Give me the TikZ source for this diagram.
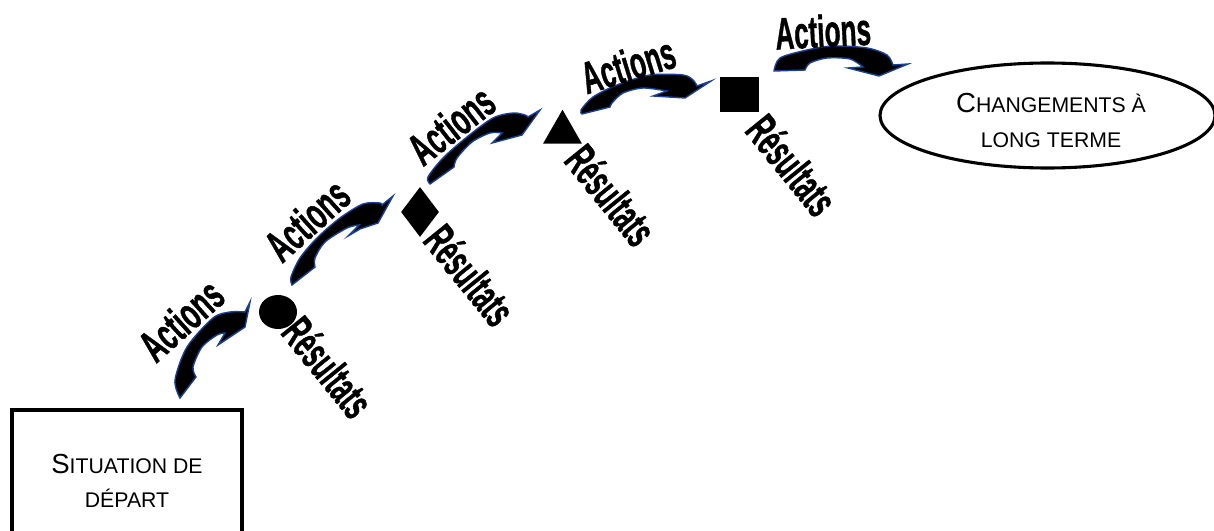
\documentclass[tikz,border=0pt]{standalone}
\usepackage{fontspec}
\setmainfont{Liberation Sans}
\newfontfamily\wordartfont[FakeBold=1.2]{Liberation Sans Bold}
\usetikzlibrary{shapes.geometric}
\definecolor{arrowblue}{RGB}{24,64,150}
\newcommand{\firstcap}[1]{{\fontsize{19.6}{24.5}\selectfont #1}}

\begin{document}
\begin{tikzpicture}[x=0.025cm, y=-0.025cm,
    actionarrow/.style={draw=arrowblue, fill=black, line width=1pt, line join=miter},
    actiontext/.style={font=\wordartfont\fontsize{32}{32}\selectfont, inner sep=0pt, transform shape, xscale=0.58},
    resulttext/.style={font=\wordartfont\fontsize{32}{32}\selectfont, inner sep=0pt, transform shape, xscale=0.56},
    marker/.style={fill=black, draw=none, inner sep=0pt},
    stage/.style={draw=black, line width=2.2pt},
    stagetext/.style={align=center, inner sep=0pt, font=\fontsize{15.1}{24.5}\selectfont}]
  \path[clip, use as bounding box] (0,0) rectangle (1214,531);

  \node[stage, stagetext, rectangle, minimum width=230*0.025cm, minimum height=142*0.025cm] (start) at (127,481) {\firstcap{S}ITUATION DE\\D\'EPART};
  \node[stage, ellipse, minimum width=335*0.025cm, minimum height=105*0.025cm, inner sep=0pt] (goal) at (1047.5,115.5) {};
  \node[stagetext] (goaltext) at (1051,120.5) {\firstcap{C}HANGEMENTS \`A\\LONG TERME};

  \node[marker, ellipse, minimum width=38*0.025cm, minimum height=34*0.025cm] (res1) at (278,312) {};
  \node[marker, diamond, minimum width=38*0.025cm, minimum height=50*0.025cm, aspect=0.76] (res2) at (420,212) {};
  \node[marker, isosceles triangle, shape border rotate=90, isosceles triangle stretches, minimum width=39*0.025cm, minimum height=34*0.025cm, anchor=apex] (res3) at (562.5,109) {};
  \node[marker, rectangle, minimum width=39*0.025cm, minimum height=35*0.025cm] (res4) at (739.5,94.5) {};

  \draw[actionarrow] plot[smooth] coordinates {(180,398) (175,380) (187,347) (213,318) (230,312) (245,312)}
    -- (250,302) -- (245,327) -- (218,345) -- (225,333)
    -- plot[smooth] coordinates {(225,333) (217,335) (202,347) (193,367) (196,377)} -- cycle;
  \draw[actionarrow] plot[smooth] coordinates {(292,285) (291,277) (300,258) (317,238) (340,218) (363,204) (380,203) (382,205)}
    -- (393,196) -- (378,223) -- (360,229) -- (348,236) -- (359,225)
    -- plot[smooth] coordinates {(359,225) (347,228) (325,242) (315,258) (315,267)} -- cycle;
  \draw[actionarrow] plot[smooth] coordinates {(430,184) (428,177) (443,158) (467,137) (493,118) (513,113) (525,115) (528,117)}
    -- (540,110) -- (522,135) -- (492,143) -- (502,133)
    -- plot[smooth] coordinates {(502,133) (490,133) (472,142) (457,158) (454,167)} -- cycle;
  \draw[actionarrow] plot[smooth] coordinates {(582,114) (581,110) (593,97) (617,85) (650,75) (683,75) (693,80) (697,86)}
    -- (711,81) -- (685,98) -- (653,96) -- (667,91)
    -- plot[smooth] coordinates {(667,91) (643,88) (623,93) (612,103) (610,107)} -- cycle;
  \draw[actionarrow] plot[smooth] coordinates {(774,71) (780,58) (807,50) (833,46) (867,48) (887,55) (893,65)}
    -- (908,64) -- (879,76) -- (848,68) -- (863,67)
    -- plot[smooth] coordinates {(863,67) (850,59) (827,58) (810,63) (805,70)} -- cycle;

  \node[rotate=42, actiontext] (act1) at (181,320) {Actions};
  \node[rotate=42, actiontext] (act2) at (307,220) {Actions};
  \node[rotate=38, actiontext] (act3) at (451,125) {Actions};
  \node[rotate=17, actiontext] (act4) at (628,65) {Actions};
  \node[rotate=3, actiontext] (act5) at (823,31) {Actions};

  \node[rotate=-51, resulttext] (lab1) at (328,367) {R\'esultats};
  \node[rotate=-51, resulttext] (lab2) at (470,275) {R\'esultats};
  \node[rotate=-51, resulttext] (lab3) at (611,195) {R\'esultats};
  \node[rotate=-51, resulttext] (lab4) at (792,165) {R\'esultats};
\end{tikzpicture}
\end{document}
